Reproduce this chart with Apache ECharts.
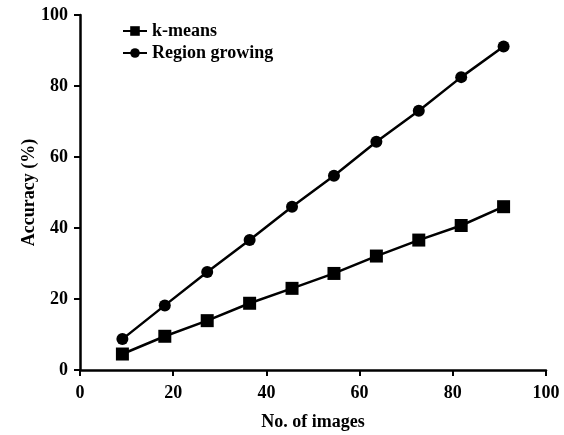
<!DOCTYPE html>
<html><head><meta charset="utf-8">
<script src="https://cdn.jsdelivr.net/npm/echarts@6/dist/echarts.min.js"></script>
<style>html,body{margin:0;padding:0;background:#fff}#c{width:564px;height:435px}</style>
</head><body><div id="c"></div>
<script>
const xValues = [9.1, 18.2, 27.3, 36.4, 45.5, 54.5, 63.6, 72.7, 81.8, 90.9];
const kMeans = [4.5, 9.5, 13.9, 18.8, 23.0, 27.2, 32.1, 36.6, 40.7, 46.0];
const regionGrowing = [8.7, 18.2, 27.6, 36.6, 46.0, 54.7, 64.3, 73.0, 82.5, 91.1];
const seriesNames = ['k-means', 'Region growing'];
const xTicks = [0, 20, 40, 60, 80, 100];
const yTicks = [0, 20, 40, 60, 80, 100];

const font = 'Liberation Serif';
const pair = (xs, ys) => xs.map((x, i) => [x, ys[i]]);
const chart = echarts.init(document.getElementById('c'));
const axisCommon = {
  axisLine: {show: true, lineStyle: {color: '#000', width: 2.5}},
  axisTick: {show: true, inside: false, length: 6, lineStyle: {color: '#000', width: 2}},
  splitLine: {show: false},
  nameMoveOverlap: false,
  axisLabel: {color: '#000', fontFamily: font, fontWeight: 'bold', fontSize: 18},
  nameTextStyle: {color: '#000', fontFamily: font, fontWeight: 'bold', fontSize: 18}
};
chart.setOption({
  animation: false,
  backgroundColor: '#fff',
  grid: {left: 80, right: 18, top: 15, bottom: 65, containLabel: false, outerBoundsMode: 'none'},
  legend: {
    orient: 'vertical', left: 117, top: 17, itemGap: 4, itemWidth: 24, itemHeight: 12,
    textStyle: {color: '#000', fontFamily: font, fontWeight: 'bold', fontSize: 18},
    data: seriesNames
  },
  xAxis: Object.assign({}, axisCommon, {
    type: 'value', min: xTicks[0], max: xTicks[xTicks.length - 1], interval: 20,
    name: 'No. of images', nameLocation: 'middle', nameGap: 43,
    axisLabel: Object.assign({}, axisCommon.axisLabel, {margin: 14})
  }),
  yAxis: Object.assign({}, axisCommon, {
    type: 'value', min: yTicks[0], max: yTicks[yTicks.length - 1], interval: 20,
    name: 'Accuracy (%)', nameLocation: 'middle', nameGap: 42,
    axisLabel: Object.assign({}, axisCommon.axisLabel, {margin: 12})
  }),
  series: [
    {name: seriesNames[0], type: 'line', data: pair(xValues, kMeans), symbol: 'rect', symbolSize: 13,
     lineStyle: {color: '#000', width: 2.5}, itemStyle: {color: '#000'}},
    {name: seriesNames[1], type: 'line', data: pair(xValues, regionGrowing), symbol: 'circle', symbolSize: 12,
     lineStyle: {color: '#000', width: 2.5}, itemStyle: {color: '#000'}}
  ]
});
</script></body></html>
